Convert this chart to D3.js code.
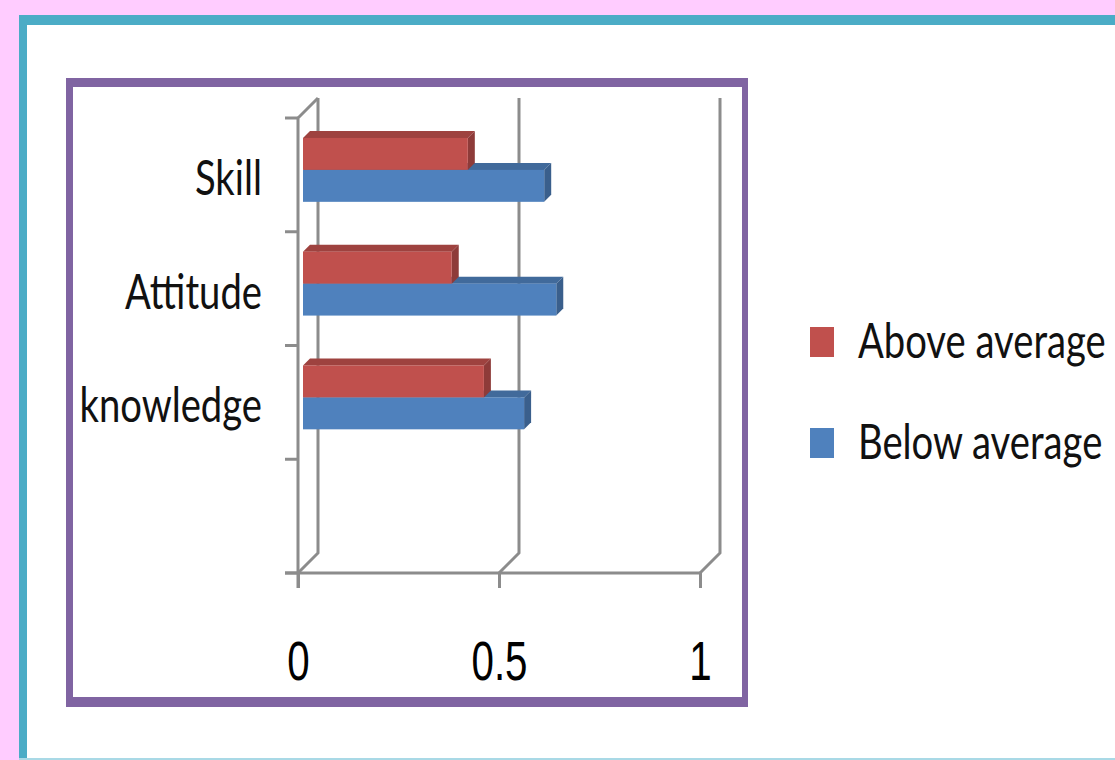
<!DOCTYPE html>
<html>
<head>
<meta charset="utf-8">
<script src="https://cdn.jsdelivr.net/npm/d3@7"></script>
<style>
  html, body { margin: 0; padding: 0; background: #ffccff; }
  svg { display: block; }
</style>
</head>
<body>
<svg width="1115" height="760"></svg>
<script>
const categories = ['Skill', 'Attitude', 'knowledge', '']
const series = ['Above average', 'Below average']
const aboveValues = [0.41, 0.37, 0.45, null]
const belowValues = [0.60, 0.63, 0.55, null]
const xTicks = [0, 0.5, 1]
const seriesColors = ['#c0504d', '#4f81bd']

const svg = d3.select('svg')
const width = +svg.attr('width')
const height = +svg.attr('height')

// frames: teal panel + purple chart box (thicker top/bottom edges like the picture)
svg.append('rect').attr('width', width).attr('height', height).attr('fill', '#ffccff')
svg.append('path')
  .attr('fill-rule', 'evenodd')
  .attr('fill', '#4bacc6')
  .attr('d', 'M19,15H1200V780H19Z M27,25H1200V758H27Z')
svg.append('path')
  .attr('fill', '#ffffff')
  .attr('d', 'M27,25H1200V758H27Z')
svg.append('rect')
  .attr('x', 19).attr('y', 758).attr('width', width).attr('height', 2)
  .attr('fill', '#a9d9e6')
svg.append('path')
  .attr('fill-rule', 'evenodd')
  .attr('fill', '#8064a2')
  .attr('d', 'M66,78H748V707H66Z M73,87H742V697H73Z')

const depth = 20      // wall depth
const barOffset = 5   // bar sits this far behind the front plane
const barDepth = 7

const xScale = d3.scaleLinear().domain([0, 1]).range([298, 700])
const yScale = d3.scaleBand().domain(categories).range([118, 573])
const sub = d3.scaleBand().domain(series).range([0, yScale.bandwidth()])
  .paddingInner(0).paddingOuter(0.78)

const plotBottom = yScale.range()[1]
const plotTop = yScale.range()[0]
const gridColor = '#8c8c8c'
const gridWidth = 3

const g = svg.append('g')

// back wall gridlines with floor diagonals
g.selectAll('.grid').data(xTicks)
  .enter().append('path')
  .attr('class', 'grid')
  .attr('fill', 'none')
  .attr('stroke', gridColor)
  .attr('stroke-width', gridWidth)
  .attr('d', d => `M${xScale(d)},${plotBottom}L${xScale(d) + depth},${plotBottom - depth}V${plotTop - depth}`)

// front vertical axis, top diagonal, baseline
g.append('path')
  .attr('fill', 'none')
  .attr('stroke', gridColor)
  .attr('stroke-width', gridWidth)
  .attr('d', `M${xScale(0) + depth},${plotTop - depth}L${xScale(0)},${plotTop}V${plotBottom + 15}`)
g.append('path')
  .attr('fill', 'none')
  .attr('stroke', gridColor)
  .attr('stroke-width', gridWidth)
  .attr('d', `M${xScale(0) - 13},${plotBottom}H${xScale(1)}`)

// category boundary ticks
const bounds = categories.map(c => yScale(c)).concat([plotBottom])
g.selectAll('.ytick').data(bounds)
  .enter().append('line')
  .attr('stroke', gridColor)
  .attr('stroke-width', gridWidth)
  .attr('x1', xScale(0) - 13)
  .attr('x2', xScale(0))
  .attr('y1', d => d)
  .attr('y2', d => d)

// x axis ticks + labels
const xAxisGroup = g.append('g')
  .attr('transform', `translate(0, ${plotBottom})`)
  .call(d3.axisBottom(xScale).tickValues(xTicks).tickSize(15).tickFormat(d => String(d)))
xAxisGroup.select('.domain').remove()
xAxisGroup.selectAll('.tick line').attr('stroke', gridColor).attr('stroke-width', gridWidth)
xAxisGroup.selectAll('.tick text')
  .attr('y', 0).attr('dy', 0)
  .attr('transform', 'translate(0,107) scale(0.72,1)')
  .attr('font-family', '"Liberation Sans", Arial, sans-serif')
  .attr('font-size', 56)
  .attr('fill', '#000')

// y axis labels
const yAxisGroup = g.append('g')
  .attr('transform', `translate(${xScale(0)}, 0)`)
  .call(d3.axisLeft(yScale).tickSize(0))
yAxisGroup.select('.domain').remove()
yAxisGroup.selectAll('.tick text')
  .attr('x', 0).attr('dy', 0)
  .attr('transform', 'translate(-36,20) scale(0.78,1)')
  .attr('font-family', 'Lato, sans-serif')
  .attr('font-size', 49)
  .attr('fill', '#111')

// bars: lower (blue) first so the red bar's faces sit on top
const bars = []
categories.forEach((c, i) => {
  bars.push({ cat: c, s: 1, v: belowValues[i] })
  bars.push({ cat: c, s: 0, v: aboveValues[i] })
})
const barData = bars.filter(d => d.v != null)

const barGroups = g.selectAll('.bar').data(barData)
  .enter().append('g').attr('class', 'bar')

const geom = d => {
  const x0 = xScale(0) + barOffset
  const x1 = xScale(d.v) + barOffset
  const y0 = yScale(d.cat) + sub(series[d.s]) - barOffset
  const h = sub.bandwidth()
  return { x0, x1, y0, h }
}

barGroups.append('path')
  .attr('fill', d => d3.color(seriesColors[d.s]).darker(0.55))
  .attr('d', d => {
    const { x0, x1, y0 } = geom(d)
    return `M${x0},${y0}L${x0 + barDepth},${y0 - barDepth}H${x1 + barDepth}L${x1},${y0}Z`
  })
barGroups.append('path')
  .attr('fill', d => d3.color(seriesColors[d.s]).darker(0.85))
  .attr('d', d => {
    const { x1, y0, h } = geom(d)
    return `M${x1},${y0}L${x1 + barDepth},${y0 - barDepth}V${y0 + h - barDepth}L${x1},${y0 + h}Z`
  })
barGroups.append('rect')
  .attr('fill', d => seriesColors[d.s])
  .attr('x', d => geom(d).x0)
  .attr('y', d => geom(d).y0)
  .attr('width', d => geom(d).x1 - geom(d).x0)
  .attr('height', d => geom(d).h)

// legend
const legend = svg.append('g').attr('transform', 'translate(810, 327)')
const items = legend.selectAll('.item').data(series)
  .enter().append('g')
  .attr('transform', (d, i) => `translate(0, ${i * 101})`)
items.append('rect')
  .attr('width', 24).attr('height', 30)
  .attr('fill', (d, i) => seriesColors[i])
items.append('text')
  .attr('transform', 'translate(48,31) scale(0.78,1)')
  .attr('font-family', 'Lato, sans-serif')
  .attr('font-size', 49)
  .attr('fill', '#111')
  .text(d => d)
</script>
</body>
</html>
